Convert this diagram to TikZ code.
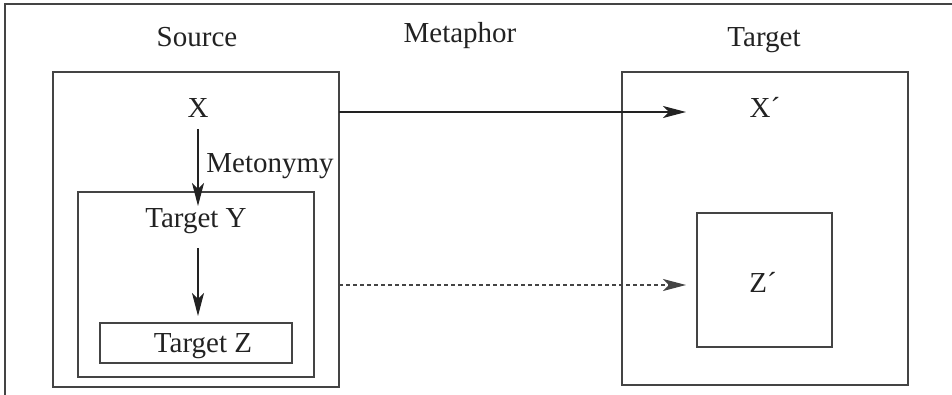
\documentclass[tikz,border=0pt]{standalone}
\usepackage{fontspec}
\setmainfont{Liberation Serif}
\usetikzlibrary{arrows.meta}
\definecolor{ink}{HTML}{222222}
\definecolor{rule}{HTML}{444444}
\tikzset{
  box/.style={draw=rule, line width=1.3pt, fill=none},
  lbl/.style={anchor=base, inner sep=0pt, font=\fontsize{29pt}{32pt}\selectfont, text=ink},
  link/.style={draw=ink, line width=1.3pt, -{Stealth[length=23pt,width=12pt,inset=6pt]}},
  dlink/.style={link, draw=rule, dash pattern=on 4pt off 3pt}
}
\begin{document}
\begin{tikzpicture}[x=1pt,y=-1pt]
\useasboundingbox (0,0) rectangle (952,395);
% open frame: top and left rules only
\draw[draw=rule, line width=1.3pt] (952,4) -- (5,4) -- (5,395);

% boxes
\draw[box] (53,72) rectangle (339,387) coordinate (srcBR);
\coordinate (srcE) at (339,112);
\draw[box] (78,192) rectangle (314,377);
\node[box, minimum width=192pt, minimum height=40pt, inner sep=0pt] (tz) at (196,343) {};
\draw[box] (622,72) rectangle (908,385);
\node[box, minimum width=135pt, minimum height=134pt, inner sep=0pt] (zp) at (764.5,280) {};

% titles
\node[lbl] (source) at (197,47) {Source};
\node[lbl] (metaphor) at (460,43) {Metaphor};
\node[lbl] (target) at (764,47) {Target};

% contents
\node[lbl] (x) at (198,118) {X};
\node[lbl] (xp) at (765,118) {X´};
\node[lbl] (meto) at (270,173) {Metonymy};
\node[lbl] (ty) at (196,228) {Target Y};
\node[lbl] (tzl) at (203,352) {Target Z};
\node[lbl] (zpl) at (763,292) {Z´};

% mapping ends
\coordinate (srcX) at (339,112);
\coordinate (endX) at (686,112);
\coordinate (srcZ) at (339,285);
\coordinate (endZ) at (686,285);
\coordinate (yTop) at (198,206);
\coordinate (yBot) at (198,248);
\coordinate (zTop) at (198,316);

% connectors
\draw[link] (srcX) -- (endX);
\draw[dlink] (srcZ) -- (endZ);
\draw[link] (x.south |- 0,129) -- (yTop);
\draw[link] (yBot) -- (zTop);
\end{tikzpicture}
\end{document}
